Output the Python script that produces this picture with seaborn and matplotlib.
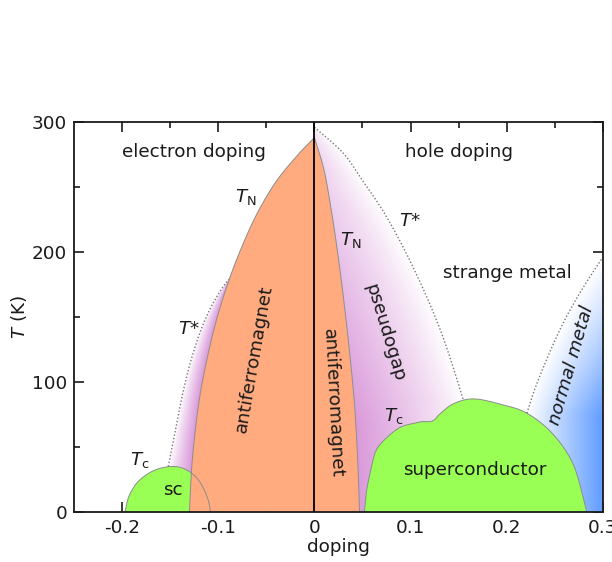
import numpy as np
import matplotlib
matplotlib.use("Agg")
import matplotlib.pyplot as plt
import seaborn as sns
from matplotlib.patches import Polygon
from matplotlib.colors import to_rgb

# ---------------- data ----------------
# electron-doped antiferromagnet boundary T_N (x, T)
tn_e_x = [-0.130, -0.127, -0.120, -0.111, -0.101, -0.089, -0.076, -0.060, -0.040, -0.018, 0.0]
tn_e_T = [0, 40, 85, 120, 150, 178, 203, 229, 254, 274, 288]
# electron-doped T* (dotted)
ts_e_x = [-0.152, -0.144, -0.137, -0.129, -0.119, -0.108, -0.097, -0.089]
ts_e_T = [35, 65, 91, 115, 138, 157, 171, 179]
# electron-doped superconducting dome
sc_e_x = [-0.197, -0.193, -0.185, -0.175, -0.165, -0.155, -0.147, -0.138, -0.128, -0.120, -0.114, -0.110, -0.108]
sc_e_T = [0, 12, 22, 28.5, 32.5, 34.5, 35, 34, 30, 24, 16, 8, 0]
# hole-doped antiferromagnet boundary
tn_h_x = [0.0, 0.010, 0.018, 0.025, 0.031, 0.037, 0.042, 0.045, 0.047]
tn_h_T = [288, 263, 230, 195, 160, 120, 80, 40, 0]
# hole-doped T* (dotted)
ts_h_x = [0.0, 0.030, 0.050, 0.071, 0.090, 0.106, 0.120, 0.133, 0.144, 0.155]
ts_h_T = [296, 276, 255, 232, 207, 183, 160, 136, 112, 86]
# hole-doped superconducting dome
sc_h_x = [0.052, 0.054, 0.058, 0.064, 0.075, 0.089, 0.102, 0.112, 0.120, 0.125, 0.130,
          0.144, 0.165, 0.193, 0.221, 0.248, 0.269, 0.281, 0.283]
sc_h_T = [0, 15, 30, 47, 57, 65, 68, 69.5, 69.5, 71, 75, 83, 87, 83, 76, 60, 37, 7, 0]
# normal-metal crossover (dotted)
nm_x = [0.221, 0.229, 0.238, 0.249, 0.262, 0.279, 0.300]
nm_T = [76, 94, 111, 130, 150, 172, 196]

x_ticks = [-0.2, -0.1, 0.0, 0.1, 0.2, 0.3]
x_ticklabels = ["-0.2", "-0.1", "0", "0.1", "0.2", "0.3"]
y_ticks = [0, 100, 200, 300]
y_ticklabels = ["0", "100", "200", "300"]

# ---------------- styling ----------------
sns.set_theme(style="ticks")
plt.rcParams['font.family'] = ['DejaVu Sans']
plt.rcParams['mathtext.fontset'] = 'dejavusans'

ORANGE = "#FFAB7F"
GREEN = "#99FF55"
PINK = "#DA9ADA"
BLUE = "#5595FF"
EDGE = "#8c8c8c"
FS = 13.2


def smooth(xs, ys, n=12):
    """Catmull-Rom curve through the given points (rendering only)."""
    p = np.column_stack([xs, ys]).astype(float)
    sc = np.array([0.55, 300.0])
    q = p / sc
    q = np.vstack([2 * q[0] - q[1], q, 2 * q[-1] - q[-2]])
    out = []
    for i in range(1, len(q) - 2):
        p0, p1, p2, p3 = q[i - 1], q[i], q[i + 1], q[i + 2]
        t = np.linspace(0, 1, n, endpoint=False)[:, None]
        seg = 0.5 * ((2 * p1) + (-p0 + p2) * t + (2 * p0 - 5 * p1 + 4 * p2 - p3) * t ** 2 +
                     (-p0 + 3 * p1 - 3 * p2 + p3) * t ** 3)
        out.append(seg)
    out.append(q[-2][None, :])
    r = np.vstack(out) * sc
    return r[:, 0], r[:, 1]


TNe = smooth(tn_e_x, tn_e_T)
TSe = smooth(ts_e_x, ts_e_T)
SCe = smooth(sc_e_x, sc_e_T)
TNh = smooth(tn_h_x, tn_h_T)
TSh = smooth(ts_h_x, ts_h_T)
SCh = smooth(sc_h_x, sc_h_T)
NM = smooth(nm_x, nm_T)

fig = plt.figure(figsize=(6.12, 5.62), dpi=100)
ax = fig.add_axes([0.121, 0.089, 0.864, 0.694])
ax.set_xlim(-0.25, 0.3)
ax.set_ylim(0, 300)

gx = np.linspace(-0.25, 0.3, 900)
gT = np.linspace(0, 300, 600)
GX, GT = np.meshgrid(gx, gT)


def gradient_image(frac, color):
    c = np.array(to_rgb(color))
    w = np.ones(3)
    frac = np.clip(frac, 0, 1)[..., None]
    return w * (1 - frac) + c * frac


def interp_T(T, curve):
    xs_, ts_ = curve
    o = np.argsort(ts_)
    return np.interp(T, np.asarray(ts_)[o], np.asarray(xs_)[o])


# hole pseudogap gradient
xa = interp_T(GT, TNh)
xs = interp_T(GT, TSh)
f = 1 - (GX - xa) / np.maximum(xs - xa, 1e-4)
f = np.clip(f, 0, 1) ** 0.85 * np.clip(1.2 - GT / 330, 0, 1)
img = gradient_image(f, PINK)
im = ax.imshow(img, extent=(-0.25, 0.3, 0, 300), origin="lower", aspect="auto", zorder=1,
               interpolation="bilinear")
poly_h = Polygon(list(zip(*TSh)) + [(TSh[0][-1], 0), (0.047, 0)] +
                 list(zip(TNh[0][::-1], TNh[1][::-1])), closed=True, transform=ax.transData)
im.set_clip_path(poly_h)

# electron pseudogap gradient
xa_e = interp_T(GT, TNe)
xs_e = interp_T(GT, TSe)
f_e = (xs_e - GX) / np.minimum(xs_e - xa_e, -1e-4)
f_e = np.clip(f_e, 0, 1) ** 0.85
img_e = gradient_image(f_e, PINK)
im_e = ax.imshow(img_e, extent=(-0.25, 0.3, 0, 300), origin="lower", aspect="auto", zorder=1,
                 interpolation="bilinear")
tn_cut = [(x, t) for x, t in zip(*TNe) if t <= 185]
poly_e = Polygon([(-0.152, 0)] + list(zip(*TSe)) + tn_cut[::-1], closed=True,
                 transform=ax.transData)
im_e.set_clip_path(poly_e)

# normal metal gradient
xb = interp_T(GT, NM)
f_b = np.clip((GX - xb) / 0.085, 0, 1) * np.clip(1.3 - GT / 240, 0, 1)
img_b = gradient_image(f_b, BLUE)
im_b = ax.imshow(img_b, extent=(-0.25, 0.3, 0, 300), origin="lower", aspect="auto", zorder=1,
                 interpolation="bilinear")
poly_b = Polygon(list(zip(*NM)) + [(0.3, 0), (0.221, 0)], closed=True, transform=ax.transData)
im_b.set_clip_path(poly_b)

# superconducting domes (fill)
ax.fill(*SCe, color=GREEN, lw=0, zorder=2)
ax.fill(*SCh, color=GREEN, lw=0, zorder=2)

# antiferromagnet regions
ax.fill(list(TNe[0]) + [0.0], list(TNe[1]) + [0], color=ORANGE, lw=0, zorder=3)
ax.fill(list(TNh[0]) + [0.0], list(TNh[1]) + [0], color=ORANGE, lw=0, zorder=3)

# boundary lines
for cx, cy in [TNe, TNh, SCe, SCh]:
    sns.lineplot(x=cx, y=cy, sort=False, estimator=None, color=EDGE, lw=0.7, ax=ax, zorder=4)
for cx, cy in [TSe, TSh, NM]:
    sns.lineplot(x=cx, y=cy, sort=False, estimator=None, color="#777777", lw=1.0,
                 linestyle=(0, (1, 1.5)), ax=ax, zorder=4)

ax.axvline(0, color="black", lw=1.3, zorder=5)

# labels
txt = dict(fontsize=FS, color="#1a1a1a", ha="center", va="center", zorder=6)
ax.text(-0.125, 277, "electron doping", **txt)
ax.text(0.150, 277, "hole doping", **txt)
ax.text(0.201, 184, "strange metal", **txt)
ax.text(-0.0625, 118, "antiferromagnet", rotation=80, **txt)
ax.text(0.019, 84, "antiferromagnet", rotation=-87, **txt)
ax.text(0.073, 138, "pseudogap", rotation=-73, **txt)
ax.text(0.267, 113, "normal metal", rotation=74, style="italic", **txt)
ax.text(0.167, 32, "superconductor", **txt)
ax.text(-0.147, 17, "sc", **txt)
ax.text(-0.071, 242, r"$T_{\rm N}$", **txt)
ax.text(0.038, 209, r"$T_{\rm N}$", **txt)
ax.text(-0.130, 141, r"$T$*", **txt)
ax.text(0.099, 224, r"$T$*", **txt)
ax.text(-0.182, 40, r"$T_{\rm c}$", **txt)
ax.text(0.083, 74, r"$T_{\rm c}$", **txt)

# axes styling
ax.set_xticks(x_ticks)
ax.set_xticklabels(x_ticklabels)
ax.set_yticks(y_ticks)
ax.set_yticklabels(y_ticklabels)
ax.set_xticks([-0.15, -0.05, 0.05, 0.15, 0.25], minor=True)
ax.set_yticks([50, 150, 250], minor=True)
ax.tick_params(which="both", direction="in", top=True, right=True, width=1.2,
               color="#1a1a1a", labelsize=FS, labelcolor="#1a1a1a", pad=5)
ax.tick_params(which="major", length=7)
ax.tick_params(which="minor", length=4)
for s in ax.spines.values():
    s.set_linewidth(1.3)
    s.set_color("#1a1a1a")
    s.set_zorder(7)
ax.set_xlabel("doping", fontsize=FS, color="#1a1a1a", labelpad=1)
ax.set_ylabel(r"$T$ (K)", fontsize=FS, color="#1a1a1a", labelpad=2)

fig.savefig("out.png", dpi=100)
